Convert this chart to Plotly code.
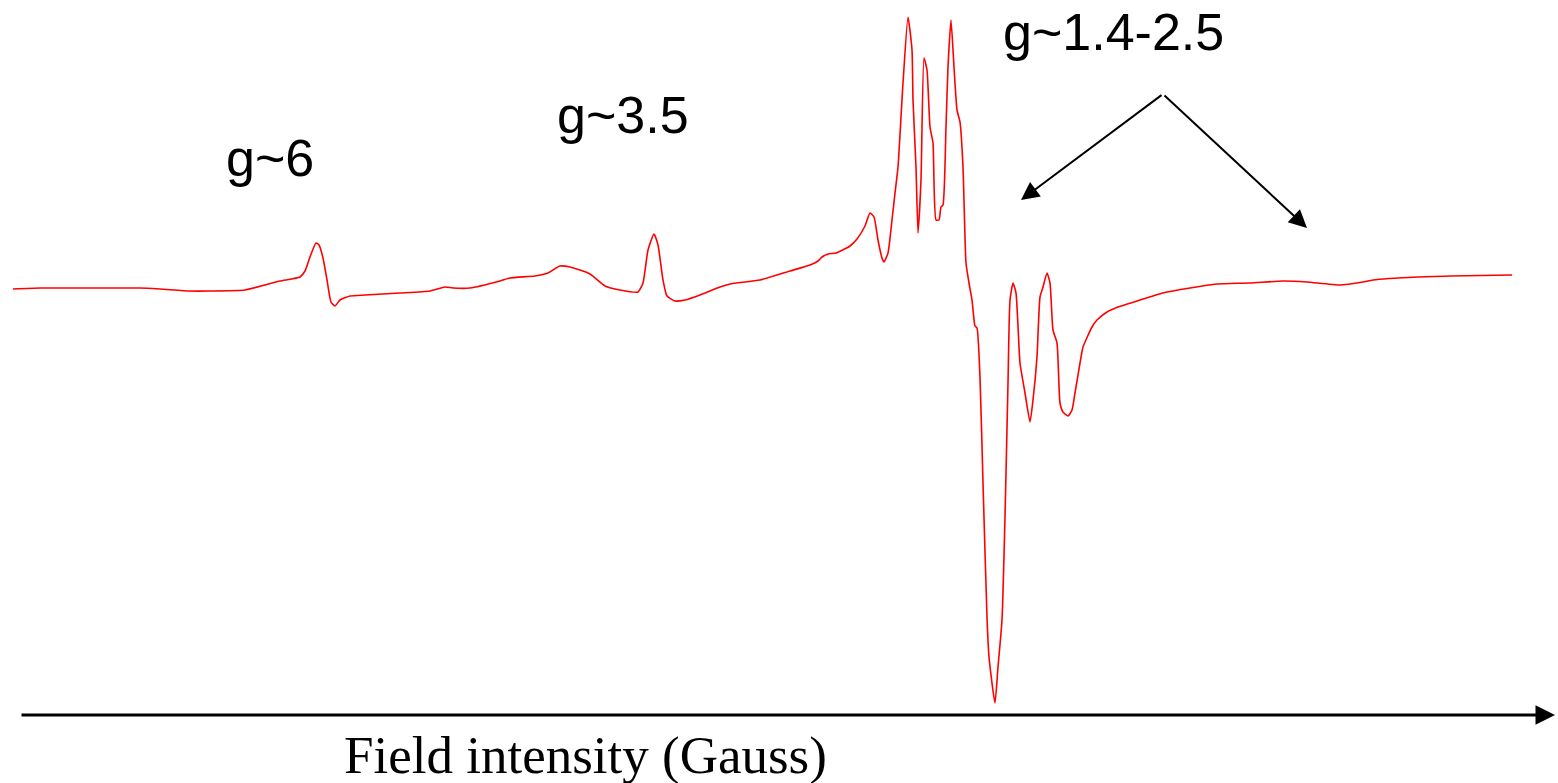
import plotly.graph_objects as go

# Field position (arbitrary units, left->right) and signal (arbitrary units, baseline ~0)
field = [13, 40, 100, 140, 160, 190, 210, 245, 265, 280, 300, 305, 310, 316, 319, 323, 327, 331, 335, 340,
         350, 365, 400, 430, 445, 453, 470, 500, 510, 535, 548, 560, 570, 590, 605, 620, 638, 643, 648, 654,
         658, 663, 667, 675, 685, 700, 720, 730, 760, 790, 810, 818, 822, 828, 836, 850, 857, 865, 870, 874,
         878, 882, 884, 888, 892, 895, 898, 903, 908, 912, 913, 916, 918, 921, 924, 927, 930, 933, 936, 939,
         941, 943, 946, 948, 951, 954, 957, 960, 963, 966, 969, 972, 975, 977, 980, 983, 987, 989, 995, 998,
         1002, 1005, 1008, 1010, 1013, 1016, 1020, 1025, 1030, 1033, 1037, 1040, 1043, 1047, 1050, 1053, 1057,
         1060, 1063, 1068, 1072, 1075, 1080, 1083, 1092, 1097, 1107, 1118, 1137, 1163, 1190, 1217, 1250, 1283,
         1307, 1340, 1363, 1373, 1417, 1450, 1512]
pix_y = [289, 288, 288, 288, 289, 291, 291, 290, 285, 281, 277, 271, 257, 243, 245, 258, 280, 302, 306, 300,
         296, 295, 293, 291, 287, 288, 288, 281, 278, 276, 273, 266, 267, 274, 286, 290, 292, 283, 250, 234,
         245, 280, 296, 301, 300, 295, 287, 284, 280, 271, 265, 261, 257, 254, 253, 246, 239, 226, 213, 217,
         240, 258, 262, 253, 220, 193, 167, 83, 17, 50, 100, 167, 233, 180, 58, 70, 127, 143, 220, 220,
         207, 205, 127, 67, 20, 67, 110, 122, 167, 263, 283, 300, 326, 328, 377, 483, 617, 657, 703, 667,
         620, 517, 383, 300, 283, 293, 363, 393, 422, 400, 357, 297, 287, 273, 283, 330, 343,
         403, 412, 416, 410, 393, 363, 347, 327, 320, 312, 307, 301, 293, 288, 284, 283, 281,
         282, 285, 282, 280, 277, 276, 275]
signal = [290 - v for v in pix_y]

labels = ["g~6", "g~3.5", "g~1.4-2.5"]
label_x = [270, 623, 1113]
label_y = [290 - 158, 290 - 115, 290 - 32]

axis_title = "Field intensity (Gauss)"

fig = go.Figure()
fig.add_trace(go.Scatter(x=field, y=signal, mode="lines",
                         line=dict(color="#ff0000", width=1.6, shape="spline", smoothing=0.5),
                         hoverinfo="skip"))

for t, x, y in zip(labels, label_x, label_y):
    fig.add_annotation(x=x, y=y, xref="x", yref="y", text=t, showarrow=False,
                       font=dict(family="Liberation Sans, Arial", size=52, color="black"),
                       xanchor="center", yanchor="middle")

# arrows from the g~1.4-2.5 label
for tip in [(1021, 290 - 200), (1307, 290 - 228)]:
    fig.add_annotation(x=tip[0], y=tip[1], ax=1163, ay=290 - 94, xref="x", yref="y",
                       axref="x", ayref="y", text="", showarrow=True, arrowhead=2,
                       arrowsize=1.8, arrowwidth=2, arrowcolor="black", standoff=0)

# bottom field axis arrow
fig.add_annotation(x=1555, y=290 - 715, ax=20, ay=290 - 715, xref="x", yref="y",
                   axref="x", ayref="y", text="", showarrow=True, arrowhead=2,
                   arrowsize=1.3, arrowwidth=3, arrowcolor="black", standoff=0)

fig.add_annotation(x=585, y=290 - 755, xref="x", yref="y", text=axis_title, showarrow=False,
                   font=dict(family="Liberation Serif, Times New Roman", size=53, color="black"),
                   xanchor="center", yanchor="middle")

fig.update_layout(width=1558, height=783, margin=dict(l=0, r=0, t=0, b=0),
                  paper_bgcolor="white", plot_bgcolor="white", showlegend=False)
fig.update_xaxes(range=[0, 1558], visible=False, fixedrange=True)
fig.update_yaxes(range=[290 - 783, 290], visible=False, fixedrange=True)

fig.write_html("out.html", config={"displayModeBar": False})
